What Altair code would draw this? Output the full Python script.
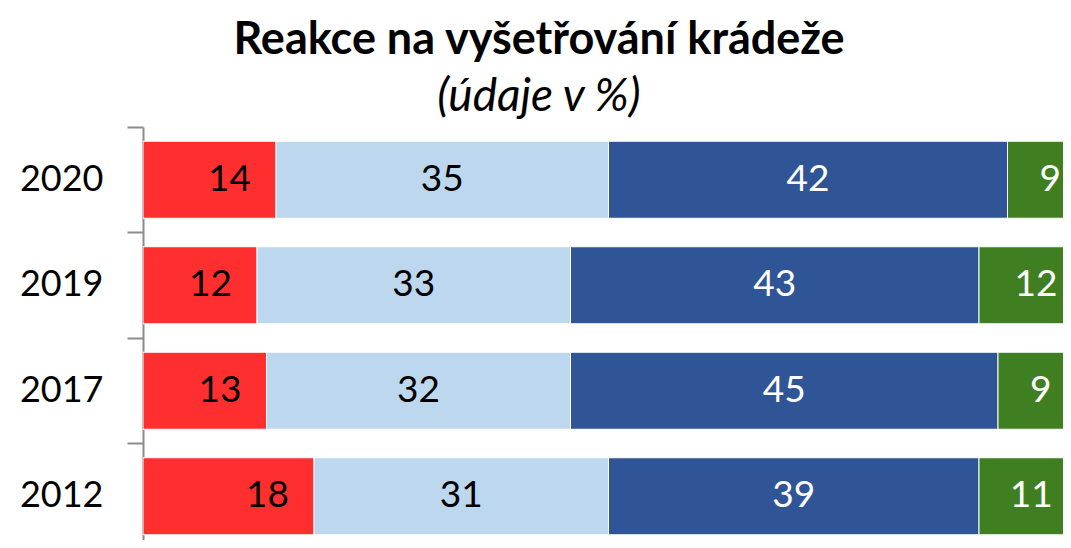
import altair as alt
import pandas as pd

years = ["2020", "2019", "2017", "2012"]
categories = ["Kategorie 1", "Kategorie 2", "Kategorie 3", "Kategorie 4"]
cat1 = [14, 12, 13, 18]
cat2 = [35, 33, 32, 31]
cat3 = [42, 43, 45, 39]
cat4 = [9, 12, 9, 11]
colors = ["#ff2f2f", "#bdd7ee", "#2f5597", "#3f7f22"]

rows = []
for i, y in enumerate(years):
    for k, (c, vals) in enumerate(zip(categories, [cat1, cat2, cat3, cat4])):
        rows.append({"year": y, "cat": c, "ord": k, "value": vals[i]})
df = pd.DataFrame(rows)

FONT = "Lato"
STEP_RANGE = 422
yscale = alt.Scale(domain=years, range=[0, STEP_RANGE], paddingInner=0, paddingOuter=0)
xscale = alt.Scale(domain=[0, 100], range=[0, 950])

base = alt.Chart(df).transform_stack(
    stack="value", groupby=["year"], sort=[alt.SortField("ord")], as_=["x0", "x1"]
).transform_calculate(mid="(datum.x0 + datum.x1) / 2")

yaxis = alt.Axis(
    title=None, bandPosition=0, tickSize=16,
    labelPadding=24, labelFontSize=36, labelFont=FONT, labelColor="black",
    domainColor="#8c8c8c", domainWidth=2, tickColor="#8c8c8c", tickWidth=2,
    grid=False,
)

bars = base.mark_bar(height={"band": 0.73}, stroke="white", strokeWidth=1, clip=True).encode(
    y=alt.Y("year:N", sort=years, scale=yscale, axis=yaxis),
    x=alt.X("x0:Q", scale=xscale, axis=None),
    x2="x1:Q",
    color=alt.Color("cat:N", scale=alt.Scale(domain=categories, range=colors), legend=None),
)

text_first = base.transform_filter("datum.ord == 0").mark_text(
    align="right", dx=-25, baseline="middle", fontSize=37, font=FONT, color="black", clip=True
).encode(
    y=alt.Y("year:N", sort=years, scale=yscale),
    x=alt.X("x1:Q", scale=xscale),
    text="value:Q",
)

text_rest = base.transform_filter("datum.ord > 0").mark_text(
    align="center", baseline="middle", fontSize=37, font=FONT, clip=True
).encode(
    y=alt.Y("year:N", sort=years, scale=yscale),
    x=alt.X("mid:Q", scale=xscale),
    text="value:Q",
    color=alt.condition("datum.ord >= 2", alt.value("white"), alt.value("black")),
)

chart = alt.layer(bars, text_first, text_rest).properties(
    width=920,
    height=413,
    padding={"left": 135, "top": 119, "right": 0, "bottom": 0},
    autosize=alt.AutoSizeParams(type="none"),
    title=alt.TitleParams(
        text="Reakce na vyšetřování krádeže",
        subtitle="(údaje v %)",
        font=FONT, fontSize=45, fontWeight="bold", color="black",
        subtitleFont=FONT, subtitleFontSize=46, subtitleFontStyle="italic",
        subtitleColor="black", subtitlePadding=12,
        anchor="middle", dx=-64, offset=6,
    ),
).configure_view(stroke=None)

chart.save("out.html", embed_options={"renderer": "svg", "actions": False})
